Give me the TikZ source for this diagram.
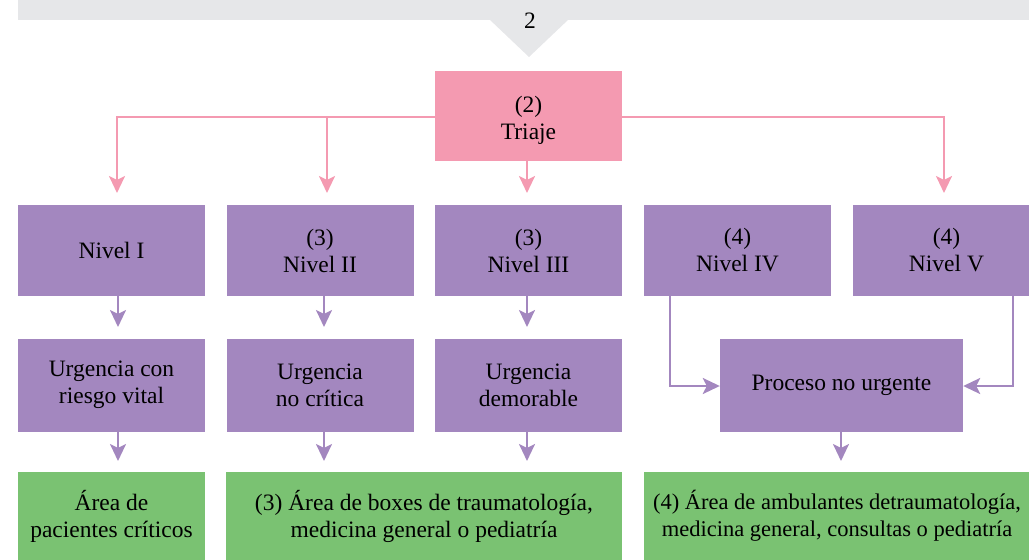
\documentclass[tikz,border=0pt]{standalone}
\usepackage{fontspec}
\setmainfont{Liberation Serif}
\usetikzlibrary{arrows.meta}
\definecolor{pinkbox}{HTML}{F49AB1}
\definecolor{purplebox}{HTML}{A387BF}
\definecolor{greenbox}{HTML}{7AC272}
\definecolor{bannergrey}{HTML}{E6E7E9}
\tikzset{
  box/.style={draw=none, minimum height=#1, inner sep=0pt, align=center,
    font=\fontsize{23.5}{27}\selectfont, text=black},
  pinkb/.style={box=90pt, fill=pinkbox, minimum width=187pt},
  levelb/.style={box=91pt, fill=purplebox, minimum width=187pt},
  urgb/.style={box=93pt, fill=purplebox, minimum width=187pt},
  greenb/.style={box=88pt, fill=greenbox},
  pinkarrow/.style={draw=pinkbox, line width=2.6pt, -{Stealth[length=17pt,width=16pt,inset=4pt]}},
  purplearrow/.style={draw=purplebox, line width=2.6pt, -{Stealth[length=17pt,width=16pt,inset=4pt]}},
}
\begin{document}
\begin{tikzpicture}[x=1pt,y=-1pt]
\useasboundingbox (0,0) rectangle (1029,560);
% banner
\fill[bannergrey] (18,0) rectangle (1040,20);
\fill[bannergrey] (489,19) -- (569,19) -- (529,57) -- cycle;
\node[font=\fontsize{23.5}{27}\selectfont, inner sep=0pt] (num) at (530,21) {2};
% triage
\node[pinkb] (tri) at (528.5,116) {\rule{0pt}{24pt}(2)\\Triaje};
% levels
\node[levelb] (n1) at (111.5,250.5) {Nivel I};
\node[levelb] (n2) at (320,250.5) {(3)\\Nivel II};
\node[levelb] (n3) at (528.5,250.5) {(3)\\Nivel III};
\node[levelb] (n4) at (737.5,250.5) {(4)\\Nivel IV};
\node[levelb] (n5) at (946.5,250.5) {(4)\\Nivel V};
% urgency
\node[urgb] (u1) at (111.5,385) {Urgencia con\\riesgo vital};
\node[urgb] (u2) at (320,385) {Urgencia\\no crítica};
\node[urgb] (u3) at (528.5,385) {Urgencia\\demorable};
\node[urgb, minimum width=243pt] (pr) at (841.5,385) {Proceso no urgente};
% areas
\node[greenb, minimum width=187pt] (g1) at (111.5,516) {Área de\\pacientes críticos};
\node[greenb, minimum width=396pt] (g2) at (424,516) {(3) Área de boxes de traumatología,\\medicina general o pediatría};
\node[greenb, minimum width=386pt, font=\fontsize{22.5}{27}\selectfont] (g3) at (837,516) {(4) Área de ambulantes detraumatología,\\medicina general, consultas o pediatría};
% pink connectors
\coordinate (tl) at (117,117);
\coordinate (tr) at (944,117);
\draw[pinkarrow] (tri.west |- tl) -- (tl) -- (117,193);
\draw[pinkarrow] (327,117) -- (327,193);
\draw[pinkarrow] (tri.east |- tr) -- (tr) -- (944,193);
\draw[pinkarrow] (527,161) -- (527,193);
% purple connectors
\draw[purplearrow] (118,296) -- (118,327);
\draw[purplearrow] (324,296) -- (324,327);
\draw[purplearrow] (527,296) -- (527,327);
\draw[purplearrow] (670,296) -- (670,386) -- (pr.west |- 0,386);
\draw[purplearrow] (1013,296) -- (1013,386) -- (pr.east |- 0,386);
\draw[purplearrow] (118,431) -- (118,461);
\draw[purplearrow] (324,431) -- (324,461);
\draw[purplearrow] (527,431) -- (527,461);
\draw[purplearrow] (841,431) -- (841,461);
\end{tikzpicture}
\end{document}
